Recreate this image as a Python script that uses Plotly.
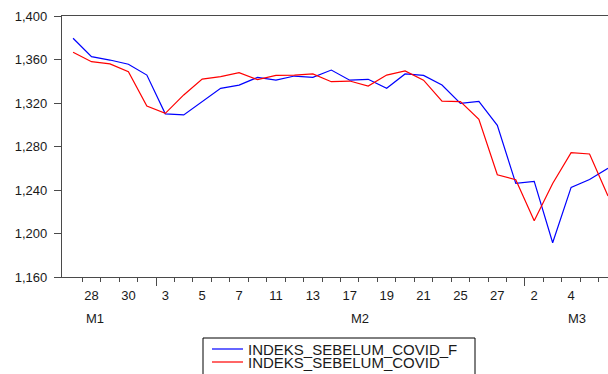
import plotly.graph_objects as go

# Observation dates (weekdays, Jan 27 - Mar 6)
dates = ["27", "28", "29", "30", "31", "3", "4", "5", "6", "7",
         "10", "11", "12", "13", "14", "17", "18", "19", "20", "21",
         "24", "25", "26", "27", "28", "2", "3", "4", "5", "6"]
months = ["M1"] * 5 + ["M2"] * 20 + ["M3"] * 5

forecast = [1379.5, 1362.6, 1359.5, 1355.6, 1345.7, 1310.0, 1309.0, 1321.0, 1333.5, 1336.5,
            1343.6, 1341.0, 1344.8, 1343.6, 1350.3, 1341.0, 1341.8, 1333.5, 1346.7, 1345.4,
            1336.5, 1319.7, 1321.5, 1299.5, 1246.0, 1248.0, 1191.5, 1242.4, 1249.7, 1260.0]
actual = [1366.6, 1358.0, 1355.9, 1348.8, 1317.2, 1310.5, 1327.4, 1342.0, 1344.2, 1347.9,
          1341.5, 1345.4, 1345.7, 1346.7, 1339.6, 1340.2, 1335.6, 1345.7, 1349.5, 1341.0,
          1321.8, 1321.2, 1305.0, 1254.0, 1249.5, 1211.8, 1246.0, 1274.3, 1273.1, 1234.5]

series_names = ["INDEKS_SEBELUM_COVID_F", "INDEKS_SEBELUM_COVID"]
series_colors = ["#0000ff", "#ff0000"]

y_ticks = [1160, 1200, 1240, 1280, 1320, 1360, 1400]
month_label_pos = {"M1": 1.19, "M2": 15.55, "M3": 27.3}

idx = list(range(len(dates)))
label_idx = idx[1::2]
label_txt = [dates[i] for i in label_idx]
# tick marks between observations; longer ones at month boundaries
boundaries = [i + 0.5 for i in idx[:-1]]
month_breaks = [i + 0.5 for i in idx[:-1] if months[i] != months[i + 1]]
minor_ticks = [b for b in boundaries if b not in month_breaks]

FONT = "Liberation Sans, Arial, sans-serif"
TXT = "#1a1a1a"
AX = "#4a4a4a"
xr = [-0.6, 29.0]

W, H = 608, 420          # page window shows the top 374 px
L, T, BOT = 62, 16, 277
B = H - BOT


def px(xp):   # page pixel -> paper x
    return (xp - L) / (W - L)


def py(yp):   # page pixel -> paper y
    return (BOT - yp) / (BOT - T)


fig = go.Figure()
for vals, name, col in zip([forecast, actual], series_names, series_colors):
    fig.add_trace(go.Scatter(x=idx, y=vals, mode="lines", name=name,
                             line=dict(color=col, width=1.2), showlegend=False))
fig.add_trace(go.Scatter(x=[], y=[], xaxis="x2", showlegend=False, hoverinfo="skip"))
fig.add_trace(go.Scatter(x=[], y=[], xaxis="x3", showlegend=False, hoverinfo="skip"))

for m, pos in month_label_pos.items():
    fig.add_annotation(x=pos, y=0, xref="x", yref="paper", yshift=-41, text=m,
                       showarrow=False, yanchor="middle",
                       font=dict(family=FONT, size=13, color=TXT))

# legend box (bottom edge falls below the visible window, as in the original)
fig.add_shape(type="rect", xref="paper", yref="paper", x0=px(203), x1=px(475),
              y0=py(395), y1=py(338), line=dict(color="#000000", width=1),
              fillcolor="white", layer="above")
for k, col in enumerate(series_colors):
    yy = 349 + 13 * k
    fig.add_shape(type="line", xref="paper", yref="paper", x0=px(212), x1=px(243),
                  y0=py(yy), y1=py(yy), line=dict(color=col, width=1.2), layer="above")
legend_text = "<br>".join("<span style='font-size:15px'>%s</span>" % n for n in series_names)
fig.add_annotation(x=px(246), y=py(355.5), xref="paper", yref="paper", text=legend_text,
                   showarrow=False, xanchor="left", yanchor="middle", align="left",
                   font=dict(family=FONT, size=10, color=TXT))

fig.update_layout(
    width=W, height=H,
    margin=dict(l=L, r=0, t=T, b=B),
    paper_bgcolor="white", plot_bgcolor="white",
    font=dict(family=FONT, size=13, color=TXT),
    showlegend=False,
    xaxis=dict(range=xr, tickmode="array", tickvals=label_idx, ticktext=label_txt,
               ticks="", showline=True, linecolor=AX, linewidth=1.3, mirror=True,
               showgrid=False, zeroline=False, ticklabelstandoff=6,
               tickfont=dict(family=FONT, size=13, color=TXT)),
    xaxis2=dict(range=xr, overlaying="x", anchor="y", tickmode="array", tickvals=minor_ticks,
                ticks="outside", ticklen=4, tickwidth=1.3, tickcolor=AX,
                showticklabels=False, showline=False, showgrid=False, zeroline=False),
    xaxis3=dict(range=xr, overlaying="x", anchor="y", tickmode="array", tickvals=month_breaks,
                ticks="outside", ticklen=8, tickwidth=1.3, tickcolor=AX,
                showticklabels=False, showline=False, showgrid=False, zeroline=False),
    yaxis=dict(range=[1160, 1400], tickmode="array", tickvals=y_ticks, tickformat=",",
               ticks="outside", ticklen=7, tickwidth=1.3, tickcolor=AX,
               showline=True, linecolor=AX, linewidth=1.3, mirror=False,
               showgrid=False, zeroline=False, ticklabelstandoff=4,
               tickfont=dict(family=FONT, size=13, color=TXT)),
)

fig.write_html("out.html", config={"displayModeBar": False},
               post_script="document.body.style.margin='0';document.body.style.overflow='hidden';")
